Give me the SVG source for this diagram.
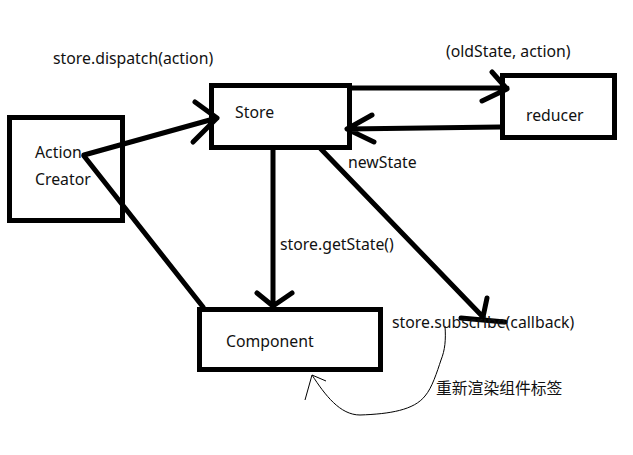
<svg xmlns="http://www.w3.org/2000/svg" width="633" height="455" viewBox="0 0 633 455">
<style>
.box{fill:none;stroke:#000;stroke-width:5}
.ln{fill:none;stroke:#000;stroke-width:5;stroke-linecap:round;stroke-linejoin:round}
.thin{fill:none;stroke:#000;stroke-width:1}
text{font-family:"Noto Sans","Liberation Sans","Noto Sans CJK SC",sans-serif;font-size:15.8px;fill:#111}
</style>
<rect width="633" height="455" fill="#fff"/>
<g id="action-creator">
<rect class="box" x="9.5" y="117.5" width="113" height="103"/>
<text x="35" y="158">Action</text>
<text x="35" y="185">Creator</text>
</g>
<g id="store">
<rect class="box" x="211.5" y="85.5" width="138" height="62"/>
<text x="235" y="118">Store</text>
</g>
<g id="reducer">
<rect class="box" x="502.5" y="75.5" width="112" height="62"/>
<text x="526" y="121">reducer</text>
</g>
<g id="component">
<rect class="box" x="199.5" y="309.5" width="181" height="60"/>
<text x="226" y="347">Component</text>
</g>
<g id="connectors">
<path class="ln" d="M84 155 L217 118 M195 102 L217 118 L193 142"/>
<path class="ln" d="M84 156 L203 307"/>
<path class="ln" d="M273 150 L273 306 M257 293 L273 306 L292 293"/>
<path class="ln" d="M350 88 L507 88 M492 72 L507 89 L482 101"/>
<path class="ln" d="M500 127 L347 129 M372 115 L347 129 L374 142"/>
<path class="ln" d="M320 148 L483 317 M487 298 L483 317 M461 318 L505 322"/>
<path class="thin" d="M445 326 C446 340 445 350 441 360 C437 372 432 388 425 396 C414 410 390 414 360 415 C340 415 325 395 312 375 M312 375 L326 381 M312 375 L305 400"/>
</g>
<g id="labels">
<text x="53" y="64">store.dispatch(action)</text>
<text x="446" y="57">(oldState, action)</text>
<text x="348" y="168">newState</text>
<text x="280" y="250">store.getState()</text>
<text x="392" y="328">store.subscribe(callback)</text>
<text x="436" y="394">重新渲染组件标签</text>
</g>
</svg>
